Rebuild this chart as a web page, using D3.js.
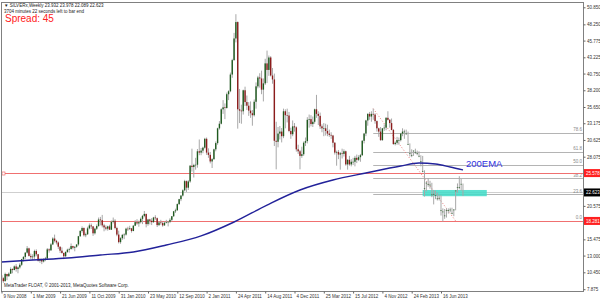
<!DOCTYPE html>
<html>
<head>
<meta charset="utf-8">
<script src="https://cdn.jsdelivr.net/npm/d3@7"></script>
<style>
  body { margin: 0; background: #fff; }
  .tiny { font-family: "Liberation Sans", Arial, sans-serif; font-size: 4.5px; fill: #222; }
</style>
</head>
<body>
<svg id="chart" width="600" height="300"></svg>
<script>
// weekly bars, the first one is the week of 9 Nov 2008
var firstWeek = "2008-11-09";

var opens = [10.00,9.55,9.10,10.20,9.85,10.25,10.95,10.80,11.35,10.95,11.20,11.60,12.45,12.80,13.45,14.10,12.95,12.75,12.85,13.70,
  13.20,12.20,12.35,12.10,12.40,12.55,13.95,13.80,14.70,15.60,15.25,15.00,14.35,13.75,13.40,12.90,13.55,13.90,14.00,14.45,
  14.20,14.35,14.70,15.95,16.75,17.20,16.10,16.25,17.15,17.60,17.45,16.40,17.10,17.50,18.50,18.40,17.60,17.30,17.10,17.45,
  16.95,18.15,18.30,17.20,16.20,15.05,15.65,16.15,16.20,17.10,17.05,17.15,16.75,17.55,18.10,17.90,18.10,18.60,19.05,19.35,
  17.80,18.50,18.30,18.10,18.80,18.70,17.65,18.05,17.95,17.60,18.00,18.10,18.15,18.45,19.00,19.75,19.90,20.85,21.60,22.15,
  22.95,24.35,23.35,24.30,26.70,26.50,26.80,26.85,28.90,28.70,29.00,29.45,30.80,28.70,28.35,27.35,27.70,29.20,30.15,32.40,
  33.10,35.30,35.60,35.50,37.60,38.05,40.60,42.80,46.10,48.60,35.30,35.10,35.00,38.20,36.40,35.85,35.10,34.70,34.40,36.45,
  38.80,40.15,40.00,38.30,39.25,42.30,41.30,43.20,40.45,39.85,30.50,30.35,31.60,31.90,31.20,35.00,34.40,34.35,32.00,31.50,
  32.70,32.55,29.20,28.90,28.20,28.45,30.20,30.45,33.70,33.80,33.05,33.40,35.30,34.60,34.30,32.70,32.40,32.40,32.00,31.60,
  31.40,31.30,30.20,28.70,28.80,28.40,28.60,28.50,28.90,26.90,27.60,26.90,27.30,27.30,27.90,27.60,28.00,28.30,30.50,31.60,
  33.60,34.60,34.20,34.60,34.50,33.50,32.40,31.90,30.60,32.40,32.50,34.00,33.70,33.20,32.15,30.00,30.20,30.60,30.60,31.60,
  31.90,31.60,30.00,28.60,28.30,29.00,28.80,28.60,28.20,27.40,25.90,23.30,24.10,23.90,23.80,22.30,22.40,22.20,21.70,21.80,
  19.90,19.70,19.10,19.90,19.90,20.00,19.50,20.00,22.90,23.40,23.45,23.932];
var highs = [10.45,9.70,10.40,10.20,10.45,11.20,11.05,11.50,11.70,11.35,11.85,12.50,12.90,13.50,14.45,14.20,13.30,13.20,13.90,13.95,
  13.25,12.60,12.55,12.60,12.80,14.15,14.10,14.90,15.80,16.20,15.40,15.15,14.40,14.25,13.45,13.65,14.05,14.20,14.85,14.50,
  14.40,14.70,16.00,16.90,17.45,17.30,16.50,17.40,17.90,17.90,17.50,17.25,17.75,18.80,18.90,19.20,17.85,17.60,17.55,17.70,
  18.35,18.80,18.55,17.40,16.80,15.80,16.30,16.40,17.25,17.40,17.55,17.20,17.65,18.40,18.55,18.35,18.80,19.20,19.80,19.40,
  18.60,18.60,18.70,18.90,19.15,18.80,18.25,18.45,18.15,18.20,18.45,18.30,18.70,19.00,19.80,20.15,20.95,21.65,22.20,23.10,
  24.55,24.45,24.50,26.80,29.30,27.00,27.90,29.25,30.70,29.40,29.60,30.95,31.00,29.35,28.80,27.85,29.30,30.40,32.50,33.50,
  35.45,36.70,36.20,37.85,38.20,40.90,43.00,46.95,49.80,48.70,38.40,36.00,38.30,38.75,37.40,36.40,36.50,35.20,36.80,39.40,
  40.40,40.80,41.20,40.00,43.00,44.25,43.50,43.40,41.60,40.75,33.40,32.60,32.75,32.45,35.40,35.30,35.40,34.90,32.50,33.60,
  33.20,32.70,29.90,29.10,29.60,30.40,31.00,34.10,34.50,34.40,34.20,35.40,37.50,35.00,34.80,33.00,33.20,33.10,32.95,32.20,
  31.80,31.40,30.30,29.00,29.10,28.80,29.30,29.20,29.00,27.70,28.20,27.70,27.90,28.20,28.40,28.30,28.50,30.60,31.70,33.70,
  34.70,34.90,35.00,35.40,34.70,33.60,32.50,32.60,32.40,33.00,34.10,35.00,33.80,33.90,32.30,30.40,31.10,31.00,31.70,32.40,
  32.20,32.20,31.90,30.10,29.20,29.00,29.30,29.00,28.90,28.30,28.20,26.00,24.30,24.80,24.40,24.10,23.00,22.90,22.60,22.30,
  22.20,20.20,20.10,20.20,20.20,20.30,20.30,20.10,23.00,24.00,25.10,24.70,23.978];
var lows = [9.35,8.85,9.05,9.25,9.80,10.20,10.30,10.75,10.55,10.30,11.00,11.40,12.10,12.50,13.30,12.85,12.45,12.30,12.50,12.90,
  12.10,11.90,11.70,11.95,12.15,12.50,13.45,13.75,14.60,15.00,14.70,14.00,13.40,13.30,12.45,12.80,13.40,13.45,13.90,13.95,
  13.65,14.20,14.50,15.85,16.50,15.90,15.80,16.15,17.00,17.05,16.00,16.20,16.90,17.40,17.60,17.30,16.70,16.85,16.80,16.95,
  16.90,17.90,17.00,15.95,14.85,14.80,15.40,15.50,16.05,16.75,16.90,16.50,16.70,17.50,17.70,17.40,17.90,17.80,18.85,17.30,
  17.55,17.75,17.65,18.00,18.45,17.35,17.50,17.70,17.40,17.55,17.90,17.45,17.95,18.20,18.90,19.50,19.85,20.70,21.30,22.00,
  22.80,22.70,23.00,24.10,25.80,24.90,26.10,26.40,28.30,28.30,28.60,29.30,28.35,27.90,27.05,26.35,27.60,28.90,29.90,32.20,
  33.00,34.60,33.80,35.40,36.70,37.90,40.10,42.70,45.50,32.35,33.20,33.10,34.50,35.80,35.20,34.30,34.00,32.80,34.20,35.40,
  38.50,38.60,37.60,36.50,39.00,39.30,40.40,40.30,39.20,29.70,26.15,29.50,30.70,30.25,30.90,32.40,33.30,31.80,30.80,31.20,
  31.90,28.85,28.50,26.15,27.90,28.20,29.70,30.10,32.50,32.70,32.60,33.10,34.00,32.90,32.30,31.80,31.20,31.30,31.20,31.10,
  30.80,29.50,28.40,26.70,27.70,26.10,27.80,28.10,26.70,26.10,26.70,26.60,26.80,26.60,27.10,27.40,27.30,28.20,30.10,31.20,
  32.80,33.70,33.40,33.70,33.10,31.90,31.10,30.50,30.50,32.00,32.10,33.60,32.50,32.10,29.90,29.80,29.90,29.90,30.40,31.20,
  30.80,31.40,29.90,28.10,28.00,28.20,28.50,28.30,28.00,26.60,25.70,22.00,22.80,23.50,23.20,21.90,20.80,21.60,21.40,21.40,
  19.10,18.20,18.60,18.80,19.40,19.60,19.30,19.00,19.90,22.60,23.10,22.90,22.089];
var closes = [9.55,9.10,10.20,9.85,10.25,10.95,10.80,11.35,10.95,11.20,11.60,12.45,12.80,13.45,14.10,12.95,12.75,12.85,13.70,13.20,
  12.20,12.35,12.10,12.40,12.55,13.95,13.80,14.70,15.60,15.25,15.00,14.35,13.75,13.40,12.90,13.55,13.90,14.00,14.45,14.20,
  14.35,14.70,15.95,16.75,17.20,16.10,16.25,17.15,17.60,17.45,16.40,17.10,17.50,18.50,18.40,17.60,17.30,17.10,17.45,16.95,
  18.15,18.30,17.20,16.20,15.05,15.65,16.15,16.20,17.10,17.05,17.15,16.75,17.55,18.10,17.90,18.10,18.60,19.05,19.35,17.80,
  18.50,18.30,18.10,18.80,18.70,17.65,18.05,17.95,17.60,18.00,18.10,18.15,18.45,19.00,19.75,19.90,20.85,21.60,22.15,22.95,
  24.35,23.35,24.30,26.70,26.50,26.80,26.85,28.90,28.70,29.00,29.45,30.80,28.70,28.35,27.35,27.70,29.20,30.15,32.40,33.10,
  35.30,35.60,35.50,37.60,38.05,40.60,42.80,46.10,48.60,35.30,35.10,35.00,38.20,36.40,35.85,35.10,34.70,34.40,36.45,38.80,
  40.15,40.00,38.30,39.25,42.30,41.30,43.20,40.45,39.85,30.50,30.35,31.60,31.90,31.20,35.00,34.40,34.35,32.00,31.50,32.70,
  32.55,29.20,28.90,28.20,28.45,30.20,30.45,33.70,33.80,33.05,33.40,35.30,34.60,34.30,32.70,32.40,32.40,32.00,31.60,31.40,
  31.30,30.20,28.70,28.80,28.40,28.60,28.50,28.90,26.90,27.60,26.90,27.30,27.30,27.90,27.60,28.00,28.30,30.50,31.60,33.60,
  34.60,34.20,34.60,34.50,33.50,32.40,31.90,30.60,32.40,32.50,34.00,33.70,33.20,32.15,30.00,30.20,30.60,30.60,31.60,31.90,
  31.90,31.60,30.00,28.60,28.30,29.00,28.80,28.60,28.20,27.40,25.90,23.30,24.10,23.90,23.80,22.30,22.40,22.20,21.70,21.80,
  19.90,19.70,19.10,19.90,19.90,20.00,19.50,20.00,22.90,23.40,23.45,23.932,22.623];

// 200 EMA (week index, price)
var emaWeeks  = [0, 17, 36, 54, 72, 90, 109, 127, 145, 163, 181, 199, 218, 228, 237, 245, 252];
var emaValues = [12.02, 12.33, 12.63, 13.09, 13.55, 14.62, 16.00, 18.12, 20.71, 23.00, 24.52, 25.59, 26.66, 27.11, 26.96, 26.50, 26.05];

var priceTicks = [50.850, 48.250, 45.775, 43.225, 40.750, 38.200, 35.650, 33.175, 30.625, 28.075,
  25.525, 23.025, 20.575, 18.025, 15.475, 13.000, 10.450, 7.875];
var dateLabels = ["9 Nov 2008", "1 Mar 2009", "21 Jun 2009", "11 Oct 2009", "31 Jan 2010", "23 May 2010",
  "12 Sep 2010", "2 Jan 2011", "24 Apr 2011", "14 Aug 2011", "4 Dec 2011", "25 Mar 2012",
  "15 Jul 2012", "4 Nov 2012", "24 Feb 2013", "16 Jun 2013"];

// horizontal lines and fibonacci
var redLevels = [25.578, 18.281];
var bidPrice = 22.623;
var fibHigh = {week: 203, price: 35.40};
var fibLow = {week: 248, price: 18.281};
var fibRatios = [0, 23.6, 38.2, 50.0, 61.8, 78.6];
var zoneWeeks = [230, 265];
var zonePrices = [22.05, 23.00];

var svg = d3.select("#chart"),
    plotLeft = 1, plotTop = 2, plotRight = 583, plotBottom = 291;

var parseWeek = d3.utcParse("%Y-%m-%d"),
    parseLabel = d3.utcParse("%d %b %Y"),
    week0 = parseWeek(firstWeek);
function weekDate(i) { return d3.utcWeek.offset(week0, i); }

var x = d3.scaleUtc()
    .domain([week0, parseLabel("16 Jun 2013")])
    .range([1.5, 441]);
var y = d3.scaleLinear()
    .domain([7.875, 50.85])
    .range([289.2, 7.3]);

svg.append("defs").append("clipPath").attr("id", "plot")
  .append("rect").attr("x", plotLeft).attr("y", plotTop)
  .attr("width", plotRight - plotLeft).attr("height", plotBottom - plotTop);

var g = svg.append("g").attr("clip-path", "url(#plot)");

// bid line
g.append("line")
    .attr("x1", plotLeft).attr("x2", plotRight)
    .attr("y1", Math.round(y(bidPrice)) + 0.5).attr("y2", Math.round(y(bidPrice)) + 0.5)
    .attr("stroke", "#cfcfcf").attr("stroke-width", 1);

// fib levels
var fibRange = fibHigh.price - fibLow.price;
var fib = g.append("g");
fibRatios.forEach(function(r) {
  var p = fibLow.price + fibRange * r / 100;
  fib.append("line")
      .attr("x1", x(weekDate(fibHigh.week))).attr("x2", plotRight)
      .attr("y1", Math.round(y(p)) + 0.5).attr("y2", Math.round(y(p)) + 0.5)
      .attr("stroke", r === 0 ? "#c83232" : "#b4b4b4").attr("stroke-width", 1);
  fib.append("text").attr("class", "tiny")
      .attr("x", plotRight - 1).attr("y", y(p) - 1.5)
      .attr("text-anchor", "end").style("fill", "#888")
      .text(r.toFixed(1));
});
fib.append("line")
    .attr("x1", x(weekDate(fibHigh.week))).attr("y1", y(fibHigh.price))
    .attr("x2", x(weekDate(fibLow.week))).attr("y2", y(fibLow.price))
    .attr("stroke", "#e87a7a").attr("stroke-width", 1).attr("stroke-dasharray", "1,2");

// red horizontal lines
redLevels.forEach(function(p) {
  g.append("line")
      .attr("x1", plotLeft).attr("x2", plotRight)
      .attr("y1", Math.round(y(p)) + 0.5).attr("y2", Math.round(y(p)) + 0.5)
      .attr("stroke", "#f07070").attr("stroke-width", 1);
});
g.append("rect")
    .attr("x", 2).attr("y", Math.round(y(redLevels[0])) - 1)
    .attr("width", 3).attr("height", 3)
    .attr("fill", "#fff").attr("stroke", "#f07070").attr("stroke-width", 0.7);

// turquoise zone
g.append("rect")
    .attr("x", x(weekDate(zoneWeeks[0])))
    .attr("y", y(zonePrices[1]))
    .attr("width", x(weekDate(zoneWeeks[1])) - x(weekDate(zoneWeeks[0])))
    .attr("height", y(zonePrices[0]) - y(zonePrices[1]))
    .attr("fill", "#40dcc8").attr("opacity", 0.85);

// candles
var bars = closes.map(function(c, i) {
  return {date: weekDate(i), o: opens[i], h: highs[i], l: lows[i], c: c};
});
var candle = g.append("g").selectAll("g")
    .data(bars)
  .enter().append("g");
candle.append("line")
    .attr("x1", function(d) { return x(d.date); })
    .attr("x2", function(d) { return x(d.date); })
    .attr("y1", function(d) { return y(d.h); })
    .attr("y2", function(d) { return y(d.l); })
    .attr("stroke", "#a8a8a8").attr("stroke-width", 1);
candle.append("rect")
    .attr("x", function(d) { return x(d.date) - 0.7; })
    .attr("width", 1.4)
    .attr("y", function(d) { return y(Math.max(d.o, d.c)); })
    .attr("height", function(d) { return Math.max(0.6, Math.abs(y(d.o) - y(d.c))); })
    .attr("fill", function(d) { return d.c >= d.o ? "#1f5a1f" : "#8c1c1c"; });

// 200 EMA
var ema = emaWeeks.map(function(w, i) { return {date: weekDate(w), v: emaValues[i]}; });
g.append("path")
    .datum(ema)
    .attr("fill", "none")
    .attr("stroke", "#22229a").attr("stroke-width", 1.4)
    .attr("d", d3.line()
      .curve(d3.curveMonotoneX)
      .x(function(d) { return x(d.date); })
      .y(function(d) { return y(d.v); }));
g.append("text")
    .attr("x", 466).attr("y", 167)
    .attr("font-family", "Liberation Sans, Arial, sans-serif")
    .attr("font-size", 9.5).attr("fill", "#3030e0")
    .text("200EMA");

// frame
svg.append("rect")
    .attr("x", plotLeft + 0.5).attr("y", plotTop + 0.5)
    .attr("width", plotRight - plotLeft).attr("height", plotBottom - plotTop)
    .attr("fill", "none").attr("stroke", "#808080").attr("stroke-width", 1);

// price axis; labels hidden under the highlighted boxes are left out
var marks = [{p: redLevels[0], c: "#ff2020"}, {p: bidPrice, c: "#000"}, {p: redLevels[1], c: "#ff2020"}];
var yAxis = svg.append("g")
    .attr("class", "tiny")
    .attr("transform", "translate(" + (plotRight + 0.5) + ",0)")
    .call(d3.axisRight(y).tickValues(priceTicks).tickFormat(d3.format(".3f")).tickSize(2).tickPadding(1.5));
yAxis.select(".domain").remove();
yAxis.selectAll("line").attr("stroke", "#666");
yAxis.selectAll("text").attr("font-size", 4.5).attr("fill", "#333").attr("font-family", null)
    .style("display", function(d) {
      return marks.some(function(m) { return Math.abs(y(m.p) - y(d)) < 6; }) ? "none" : null;
    });

// highlighted price labels
marks.forEach(function(m) {
  svg.append("rect")
      .attr("x", plotRight + 1).attr("y", y(m.p) - 4)
      .attr("width", 16).attr("height", 8).attr("fill", m.c);
  svg.append("text").attr("class", "tiny")
      .attr("x", plotRight + 3).attr("y", y(m.p)).attr("dy", "0.35em")
      .style("fill", "#fff").text(d3.format(".3f")(m.p));
});

// time axis
var xAxis = svg.append("g")
    .attr("class", "tiny")
    .attr("transform", "translate(0," + (plotBottom + 0.5) + ")")
    .call(d3.axisBottom(x).tickValues(dateLabels.map(parseLabel)).tickFormat(d3.utcFormat("%-d %b %Y")).tickSize(2).tickPadding(1));
xAxis.select(".domain").remove();
xAxis.selectAll("line").attr("stroke", "#666");
xAxis.selectAll("text").attr("text-anchor", "start").attr("dx", 1.5)
    .attr("font-size", 4.5).attr("fill", "#333").attr("font-family", null);

// header texts
svg.append("text").attr("class", "tiny").attr("x", 4).attr("y", 7)
    .text("\u25BC SILVERx,Weekly  23.932 23.978 22.089 22.623");
svg.append("text").attr("class", "tiny").attr("x", 4).attr("y", 13)
    .text("3704 minutes 22 seconds left to bar end");
svg.append("text").attr("x", 5).attr("y", 22)
    .attr("font-family", "Liberation Sans, Arial, sans-serif")
    .attr("font-size", 10).attr("fill", "#ff2020")
    .text("Spread: 45");
svg.append("text").attr("class", "tiny").attr("x", 4).attr("y", 287)
    .text("MetaTrader FLOAT, \u00A9 2001-2013, MetaQuotes Software Corp.");
</script>
</body>
</html>
